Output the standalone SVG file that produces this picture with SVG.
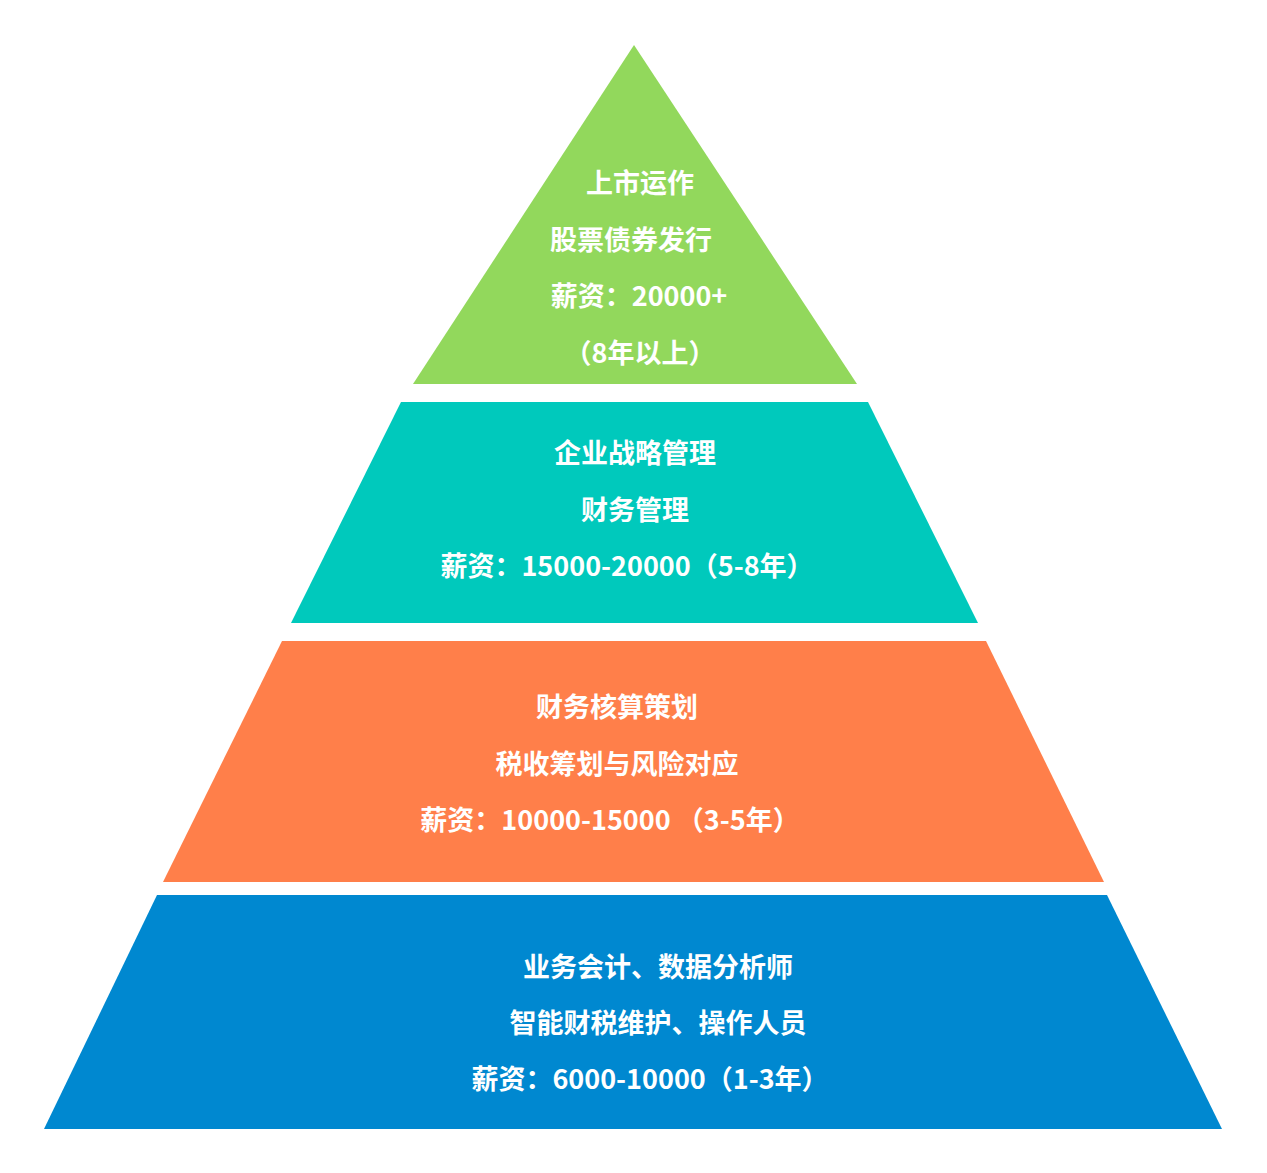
<svg xmlns="http://www.w3.org/2000/svg" width="1267" height="1173" viewBox="0 0 1267 1173">
<style>
text{font-family:"Noto Sans CJK SC","Noto Sans",sans-serif;font-weight:bold;font-size:27px;fill:#fff;text-anchor:middle}
</style>
<rect width="1267" height="1173" fill="#fff"/>
<g id="tier1">
<polygon points="634,45 857,384 413,384" fill="#92d85c"/>
<text x="640" y="193">上市运作</text>
<text x="631" y="250">股票债券发行</text>
<text x="639" y="306">薪资：20000+</text>
<text x="640" y="363">（8年以上）</text>
</g>
<g id="tier2">
<polygon points="401,402 868,402 978,623 291,623" fill="#00c9bc"/>
<text x="635" y="463">企业战略管理</text>
<text x="635" y="520">财务管理</text>
<text x="627" y="576">薪资：15000-20000（5-8年）</text>
</g>
<g id="tier3">
<polygon points="282,641 986,641 1104,882 163,882" fill="#ff7f4a"/>
<text x="617" y="717">财务核算策划</text>
<text x="617" y="774">税收筹划与风险对应</text>
<text x="610" y="830">薪资：10000-15000 （3-5年）</text>
</g>
<g id="tier4">
<polygon points="157,895 1107,895 1222,1129 44,1129" fill="#0088d0"/>
<text x="658" y="977">业务会计、数据分析师</text>
<text x="658" y="1033">智能财税维护、操作人员</text>
<text x="650" y="1089">薪资：6000-10000（1-3年）</text>
</g>
<g id="connectors"/>
</svg>
